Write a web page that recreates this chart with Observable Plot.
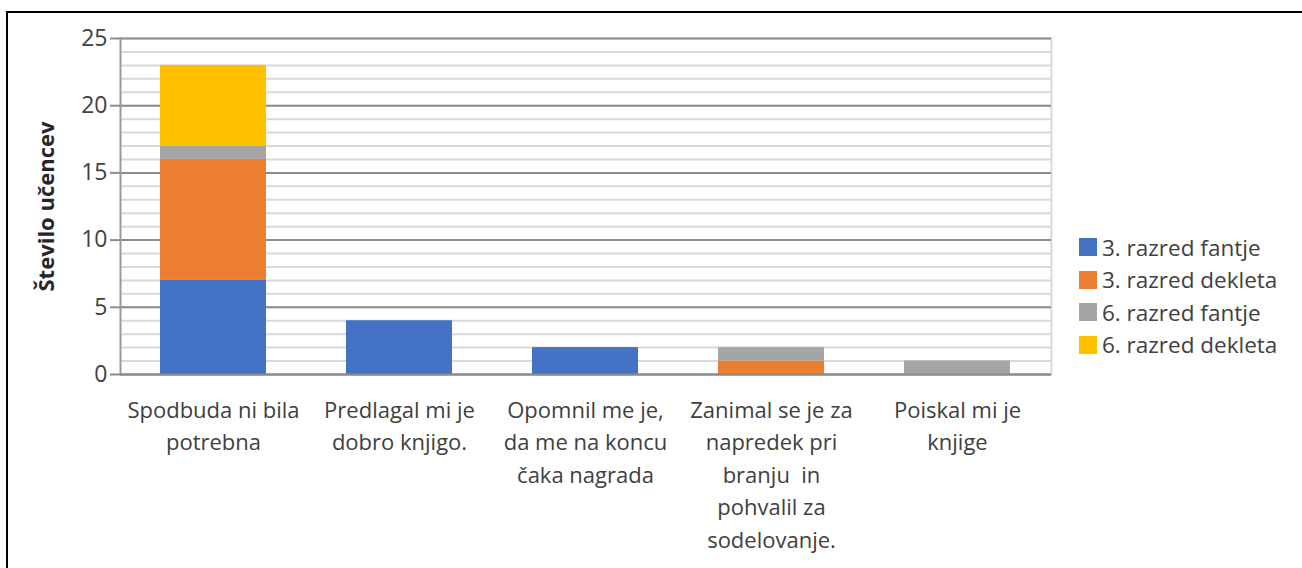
<!DOCTYPE html>
<html>
<head>
<meta charset="utf-8">
<script src="https://cdn.jsdelivr.net/npm/d3@7"></script>
<script src="https://cdn.jsdelivr.net/npm/@observablehq/plot@0.6"></script>
<style>
  html, body { margin: 0; padding: 0; background: #fff; overflow: hidden; }
  body { width: 1302px; height: 568px; position: relative; font-family: "Open Sans", sans-serif; color: #404040; }
  #border { position: absolute; left: 6px; top: 11px; width: 1400px; height: 700px; border-top: 2px solid #000; border-left: 2px solid #000; box-sizing: border-box; }
  #chart { position: absolute; left: 0; top: 0; }
  #legend { position: absolute; left: 1079px; top: 231px; }
  .item { display: flex; align-items: center; height: 32.5px; font-size: 22.5px; color: #404040; white-space: nowrap; }
  .sw { width: 18px; height: 18px; margin-right: 5px; }
</style>
</head>
<body>
<div id="border"></div>
<div id="chart"></div>
<div id="legend"></div>
<script>
const categories = [
  "Spodbuda ni bila\npotrebna",
  "Predlagal mi je\ndobro knjigo.",
  "Opomnil me je,\nda me na koncu\nčaka nagrada",
  "Zanimal se je za\nnapredek pri\nbranju  in\npohvalil za\nsodelovanje.",
  "Poiskal mi je\nknjige"
];
const series = ["3. razred fantje", "3. razred dekleta", "6. razred fantje", "6. razred dekleta"];
const fantje3 = [7, 4, 2, 0, 0];
const dekleta3 = [9, 0, 0, 1, 0];
const fantje6 = [1, 0, 0, 1, 1];
const dekleta6 = [6, 0, 0, 0, 0];
const colors = ["#4472C4", "#ED7D31", "#A5A5A5", "#FFC000"];
const yTicks = [0, 5, 10, 15, 20, 25];
const yMinor = d3.range(0, 26, 1);
const yTitle = "Število učencev";

const seriesValues = [fantje3, dekleta3, fantje6, dekleta6];
const data = [];
series.forEach((s, si) => {
  categories.forEach((c, ci) => {
    const v = seriesValues[si][ci];
    if (v > 0) data.push({cat: c, series: s, value: v});
  });
});

const chart = Plot.plot({
  width: 1302,
  height: 568,
  marginLeft: 120,
  marginRight: 251,
  marginTop: 38,
  marginBottom: 194,
  style: {fontFamily: "Open Sans, sans-serif", color: "#404040", background: "transparent"},
  x: {domain: categories, paddingInner: 0.43, paddingOuter: 0.215, axis: null},
  y: {domain: [0, 25], axis: null},
  color: {domain: series, range: colors},
  marks: [
    Plot.frame({anchor: "right", stroke: "#d9d9d9", strokeWidth: 2}),
    Plot.gridY(yMinor, {stroke: "#d9d9d9", strokeOpacity: 1, strokeWidth: 2}),
    Plot.gridY(yTicks, {stroke: "#8c8c8c", strokeOpacity: 1, strokeWidth: 2}),
    Plot.frame({anchor: "left", stroke: "#999999", strokeWidth: 2}),
    Plot.barY(data, {x: "cat", y: "value", fill: "series", order: series}),
    Plot.ruleY([0], {stroke: "#8c8c8c", strokeWidth: 2}),
    Plot.axisY(yTicks, {tickSize: 10, tickPadding: 3, fontSize: 23, stroke: "#8c8c8c", strokeWidth: 2, label: null, fill: "#404040"}),
    Plot.text(categories, {x: d => d, text: d => d, frameAnchor: "bottom", lineAnchor: "top", dy: 20, lineHeight: 1.48, fontSize: 22, fill: "#404040"}),
    Plot.text([yTitle], {text: d => d, frameAnchor: "left", textAnchor: "middle", rotate: -90, dx: -74, fontSize: 22, fontWeight: "bold", fill: "#262626"})
  ]
});
document.getElementById("chart").appendChild(chart);

const legend = document.getElementById("legend");
series.forEach((s, i) => {
  const item = document.createElement("div");
  item.className = "item";
  const sw = document.createElement("div");
  sw.className = "sw";
  sw.style.background = colors[i];
  const t = document.createElement("span");
  t.textContent = s;
  item.appendChild(sw);
  item.appendChild(t);
  legend.appendChild(item);
});
</script>
</body>
</html>
